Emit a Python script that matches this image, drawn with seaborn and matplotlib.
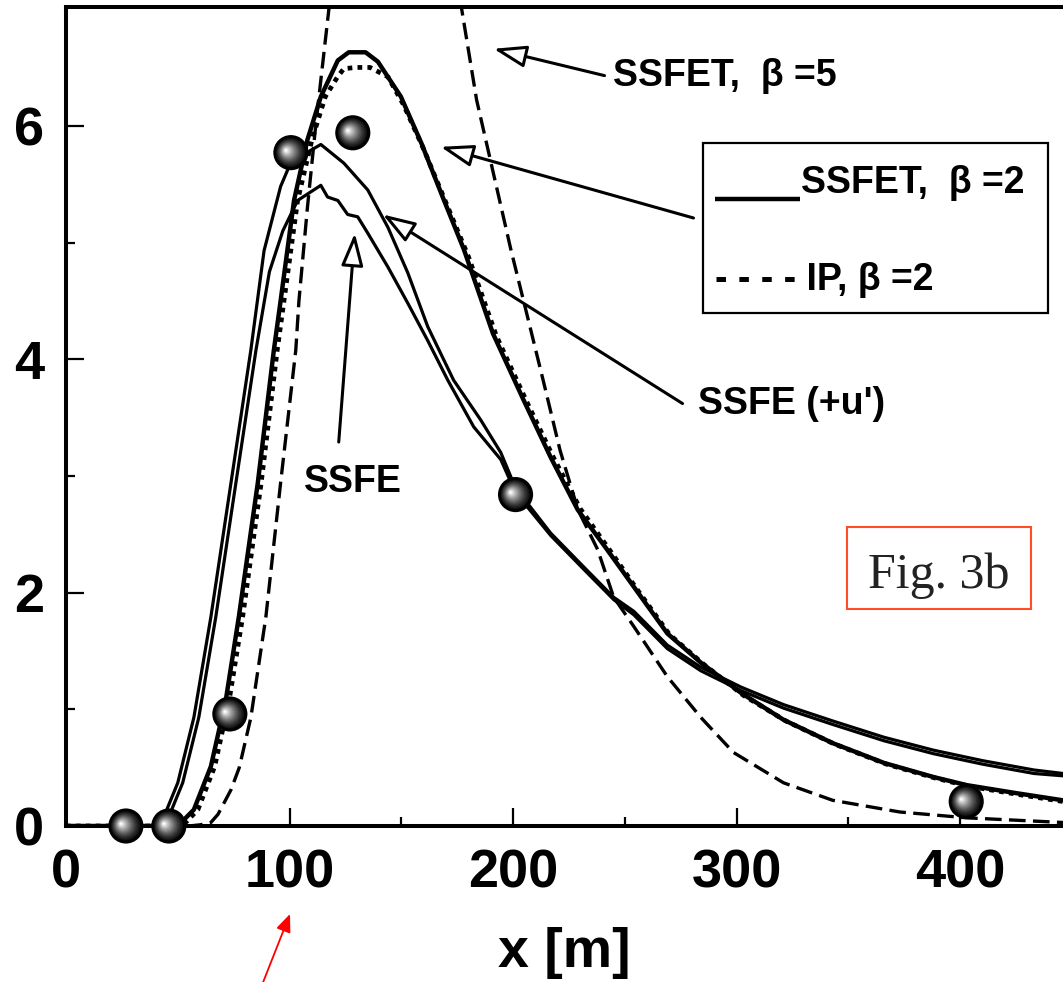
import matplotlib
matplotlib.use("Agg")
import matplotlib.pyplot as plt
import matplotlib.transforms as mtransforms
from matplotlib.patches import Rectangle
import seaborn as sns

ssfet2_x = [0, 40, 50, 57.2, 64.8, 71.5, 77.3, 85.8, 93, 96, 102, 108, 114, 121.6, 126.5, 134,
            139.5, 149.8, 159, 168.5, 178, 191, 204.7, 216.8, 228.9, 242, 254, 269, 284, 302,
            321, 343, 366, 388, 403, 425.6, 446]
ssfet2_y = [0, 0, 0.0, 0.14, 0.51, 1.08, 1.79, 2.94, 4.08, 4.5, 5.36, 5.88, 6.25, 6.56, 6.63, 6.63,
            6.55, 6.25, 5.85, 5.39, 4.94, 4.22, 3.65, 3.16, 2.71, 2.37, 2.05, 1.65, 1.40, 1.14,
            0.91, 0.71, 0.54, 0.42, 0.35, 0.28, 0.22]

ip2_x = [0, 42, 52, 59, 66.5, 73, 79, 87.3, 94.5, 97.5, 103.6, 110, 116, 121.5, 124.3, 130, 136,
         144, 151, 160, 170, 180, 192.5, 206, 218, 230, 243, 255, 270, 285, 303, 322, 344, 367,
         389, 404, 426, 446]
ip2_y = [0, 0, 0, 0.14, 0.51, 1.08, 1.79, 2.94, 4.08, 4.5, 5.36, 5.88, 6.25, 6.42, 6.49, 6.50, 6.50,
         6.42, 6.18, 5.80, 5.34, 4.88, 4.20, 3.64, 3.16, 2.72, 2.37, 2.04, 1.64, 1.39, 1.12, 0.90,
         0.70, 0.53, 0.41, 0.34, 0.27, 0.21]

ssfe_u_x = [0, 38, 43.8, 50, 57.2, 64.8, 73.8, 82.7, 88.6, 96, 100, 105, 114, 124.3, 135, 144,
            152.9, 161.8, 173.4, 185.5, 194.5, 201, 216.8, 231.6, 245, 254, 269, 284, 302, 321,
            343, 366, 388, 410, 433, 446]
ssfe_u_y = [0, 0, 0.08, 0.37, 0.93, 1.79, 2.94, 4.08, 4.93, 5.48, 5.66, 5.74, 5.84, 5.68, 5.45, 5.13,
            4.74, 4.28, 3.82, 3.48, 3.2, 2.9, 2.51, 2.22, 1.96, 1.84, 1.55, 1.36, 1.19, 1.04,
            0.90, 0.76, 0.65, 0.56, 0.48, 0.45]

ssfe_x = [0, 41, 46, 52.2, 59.4, 67, 76, 85, 91, 97, 103.6, 110, 114, 117, 121.6, 126, 130.5, 135,
          144, 152.9, 161.8, 170.8, 182.4, 194.5, 201, 216.8, 231.6, 245, 254, 269, 284, 302, 321,
          343, 366, 388, 410, 433, 446]
ssfe_y = [0, 0, 0.08, 0.37, 0.93, 1.79, 2.94, 4.08, 4.75, 5.1, 5.36, 5.44, 5.49, 5.39, 5.36, 5.24,
          5.22, 5.08, 4.79, 4.48, 4.16, 3.82, 3.42, 3.14, 2.86, 2.49, 2.20, 1.94, 1.81, 1.52, 1.33,
          1.16, 1.01, 0.87, 0.73, 0.62, 0.53, 0.45, 0.43]

ssfet5_x = [0, 55, 60, 64.8, 68, 73.8, 77.5, 82.7, 89.4, 96, 102.8, 104.2, 108, 111.8, 117.6, 125,
            145, 170, 177, 183.7, 199, 206.5, 213.7, 221, 229, 237.8, 245, 254, 269, 284, 298.6,
            321, 343, 373, 403, 446]
ssfet5_y = [0, 0, 0.01, 0.03, 0.1, 0.31, 0.5, 0.93, 1.79, 2.94, 4.08, 4.5, 5.3, 6.02, 7.0, 8.3,
            9.5, 8.3, 7.0, 6.22, 4.94, 4.36, 3.80, 3.22, 2.71, 2.37, 1.96, 1.71, 1.28, 0.93, 0.63,
            0.37, 0.22, 0.12, 0.07, 0.03]

# measured points
ball_x = [26.8, 46, 73.3, 100.6, 128.3, 201.1, 402.7]
ball_y = [0.0, 0.0, 0.96, 5.77, 5.94, 2.84, 0.21]

sns.set_style("ticks")
plt.rcParams['font.family'] = ['Liberation Sans', 'DejaVu Sans']
plt.rcParams['font.weight'] = 'bold'
for key in ['text.color', 'axes.labelcolor', 'xtick.color', 'ytick.color', 'axes.edgecolor']:
    plt.rcParams[key] = 'black'

fig = plt.figure(figsize=(10.63, 9.82), dpi=100)
ax = fig.add_axes([66 / 1063, 156 / 982, 997 / 1063, 819 / 982])

sns.lineplot(x=ip2_x, y=ip2_y, ax=ax, color='black', lw=3.4, linestyle=(0, (1, 1.1)),
             estimator=None, sort=False)
sns.lineplot(x=ssfet2_x, y=ssfet2_y, ax=ax, color='black', lw=3.2, estimator=None, sort=False)
sns.lineplot(x=ssfe_u_x, y=ssfe_u_y, ax=ax, color='black', lw=2.3, estimator=None, sort=False)
sns.lineplot(x=ssfe_x, y=ssfe_y, ax=ax, color='black', lw=2.3, estimator=None, sort=False)
sns.lineplot(x=ssfet5_x, y=ssfet5_y, ax=ax, color='black', lw=2.4, linestyle=(0, (5, 2.2)),
             estimator=None, sort=False)

# shaded spheres
ball_s = 640
sns.scatterplot(x=ball_x, y=ball_y, ax=ax, s=ball_s, color='black', edgecolor='none',
                zorder=10, clip_on=False)
n_layers = 14
for k in range(n_layers):
    t = (k + 1) / n_layers
    frac = 0.82 * (1 - t) + 0.06
    grey = min(1.0, 0.05 + 0.95 * t ** 1.3)
    off = 3.6 * t
    tr = mtransforms.offset_copy(ax.transData, fig=fig, x=-off, y=off * 0.45, units='points')
    ax.scatter(ball_x, ball_y, s=ball_s * frac ** 2, color=(grey, grey, grey), edgecolor='none',
               zorder=11 + k, transform=tr, clip_on=False)

ax.set_xlim(0, 446)
ax.set_ylim(0, 7.018)
ax.set_xticks([0, 100, 200, 300, 400])
ax.set_xticks([50, 150, 250, 350], minor=True)
ax.set_yticks([0, 2, 4, 6])
ax.set_yticks([1, 3, 5], minor=True)
ax.tick_params(which='major', direction='in', length=13, width=1.6, labelsize=39, pad=16,
               colors='black')
ax.tick_params(which='minor', direction='in', length=6.5, width=1.6, colors='black')
ax.tick_params(top=False, right=False)
for lab in ax.get_xticklabels() + ax.get_yticklabels():
    lab.set_fontweight('bold')
ax.spines['right'].set_visible(False)
for s in ['left', 'bottom', 'top']:
    ax.spines[s].set_linewidth(2.9)
    ax.spines[s].set_color('black')
ax.set_xlabel("x [m]", fontsize=40, fontweight='bold', labelpad=21)
ax.set_ylabel("")

arrow_kw = dict(arrowstyle='-|>,head_length=0.8,head_width=0.27', fc='white', ec='black',
                lw=2.2, mutation_scale=25, shrinkA=0, shrinkB=0)
ax.annotate("", xy=(191.3, 6.66), xytext=(240.9, 6.43), arrowprops=arrow_kw)
ax.annotate("", xy=(167.6, 5.82), xytext=(280.7, 5.21), arrowprops=arrow_kw)
ax.annotate("", xy=(141.7, 5.24), xytext=(275.8, 3.62), arrowprops=arrow_kw)
ax.annotate("", xy=(129.2, 5.08), xytext=(122.0, 3.29), arrowprops=arrow_kw)

ax.text(244.5, 6.43, "SSFET,  β =5", fontsize=27, fontweight='bold', va='center', ha='left')
ax.text(282.9, 3.62, "SSFE (+u')", fontsize=27, fontweight='bold', va='center', ha='left')
ax.text(106.4, 2.95, "SSFE", fontsize=27, fontweight='bold', va='center', ha='left')

# legend box
ax.add_patch(Rectangle((285.1, 4.40), 154.2, 1.45, fill=False, ec='black', lw=1.6, zorder=20))
ax.plot([290.5, 328.5], [5.37, 5.37], color='black', lw=3.2, solid_capstyle='butt', zorder=20)
ax.text(329.0, 5.42, "SSFET,  β =2", fontsize=27, fontweight='bold', va='baseline', ha='left')
ax.text(290.5, 4.59, "- - - - IP, β =2", fontsize=27, fontweight='bold', va='baseline', ha='left')

# figure tag
ax.add_patch(Rectangle((349.5, 1.86), 82.2, 0.70, fill=False, ec='#ff4d26', lw=1.5, zorder=20))
ax.text(390.6, 2.04, "Fig. 3b", fontsize=36, fontweight='normal', family='Liberation Serif',
        color='#222222', va='baseline', ha='center')

ax.annotate("", xy=(290 / 1063, 1 - 914 / 982), xycoords='figure fraction',
            xytext=(262 / 1063, -0.003), textcoords='figure fraction',
            arrowprops=dict(arrowstyle='-|>,head_length=0.6,head_width=0.25', color='red',
                            lw=1.3, mutation_scale=18, shrinkA=0, shrinkB=0))

fig.savefig("out.png", dpi=100)
